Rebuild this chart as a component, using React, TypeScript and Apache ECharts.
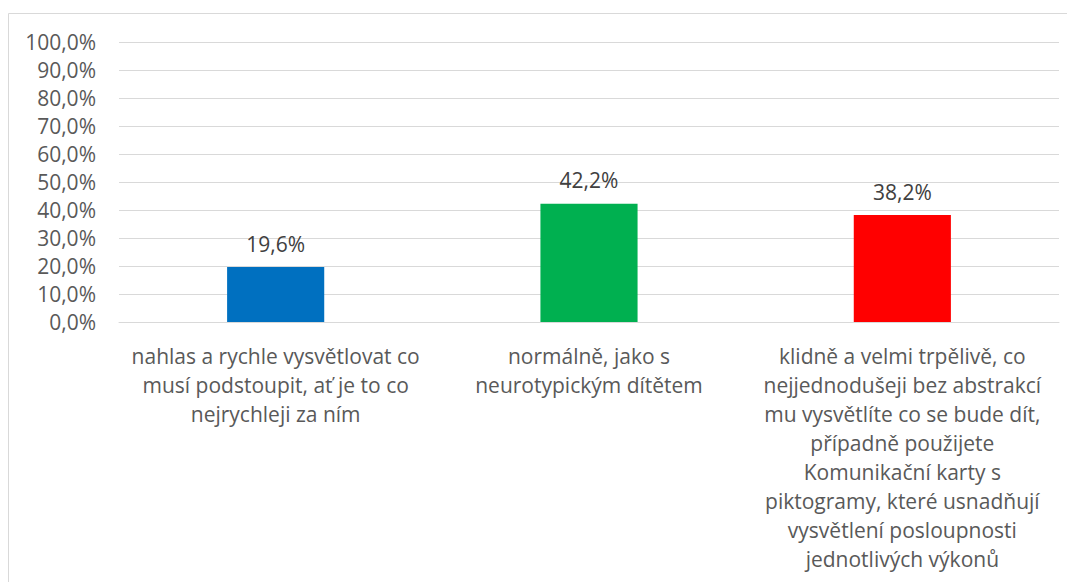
import React, { useEffect, useRef } from "react";
import * as echarts from "echarts";

const categories = [
  "nahlas a rychle vysvětlovat co\nmusí podstoupit, ať je to co\nnejrychleji za ním",
  "normálně, jako s\nneurotypickým dítětem",
  "klidně a velmi trpělivě, co\nnejjednodušeji bez abstrakcí\nmu vysvětlíte co se bude dít,\npřípadně použijete\nKomunikační karty s\npiktogramy, které usnadňují\nvysvětlení posloupnosti\njednotlivých výkonů",
];
const values = [19.6, 42.2, 38.2];
const colors = ["#0070C0", "#00B050", "#FF0000"];

const FONT = "'Open Sans', sans-serif";

export default function App() {
  const ref = useRef<HTMLDivElement>(null);
  useEffect(() => {
    if (!ref.current) return;
    const chart = echarts.init(ref.current, undefined, { renderer: "svg" });
    chart.setOption({
      animation: false,
      textStyle: { fontFamily: FONT },
      graphic: [
        {
          type: "rect",
          shape: { x: 0.5, y: 5.5, width: 1200, height: 800 },
          style: { fill: "none", stroke: "#d9d9d9", lineWidth: 1 },
          silent: true,
        },
      ],
      grid: { left: 111, right: 16, top: 34, bottom: 260, containLabel: false },
      xAxis: {
        type: "category",
        data: categories,
        axisLine: { show: true, lineStyle: { color: "#d9d9d9" } },
        axisTick: { show: false },
        axisLabel: {
          color: "#595959",
          fontSize: 21,
          lineHeight: 29,
          margin: 19,
          interval: 0,
          fontFamily: FONT,
        },
      },
      yAxis: {
        type: "value",
        min: 0,
        max: 100,
        interval: 10,
        axisLine: { show: false },
        axisTick: { show: false },
        splitLine: { lineStyle: { color: "#d9d9d9", width: 1 } },
        axisLabel: {
          color: "#595959",
          fontSize: 21,
          margin: 23,
          fontFamily: FONT,
          formatter: (v: number) => v.toFixed(1).replace(".", ",") + "%",
        },
      },
      series: [
        {
          type: "bar",
          barWidth: "31%",
          data: values.map((v, i) => ({ value: v, itemStyle: { color: colors[i] } })),
          label: {
            show: true,
            position: "top",
            distance: 13,
            color: "#404040",
            fontSize: 21,
            fontFamily: FONT,
            formatter: (p: any) => p.value.toFixed(1).replace(".", ",") + "%",
          },
        },
      ],
    });
    return () => chart.dispose();
  }, []);
  return <div ref={ref} style={{ width: 1067, height: 574 }} />;
}
